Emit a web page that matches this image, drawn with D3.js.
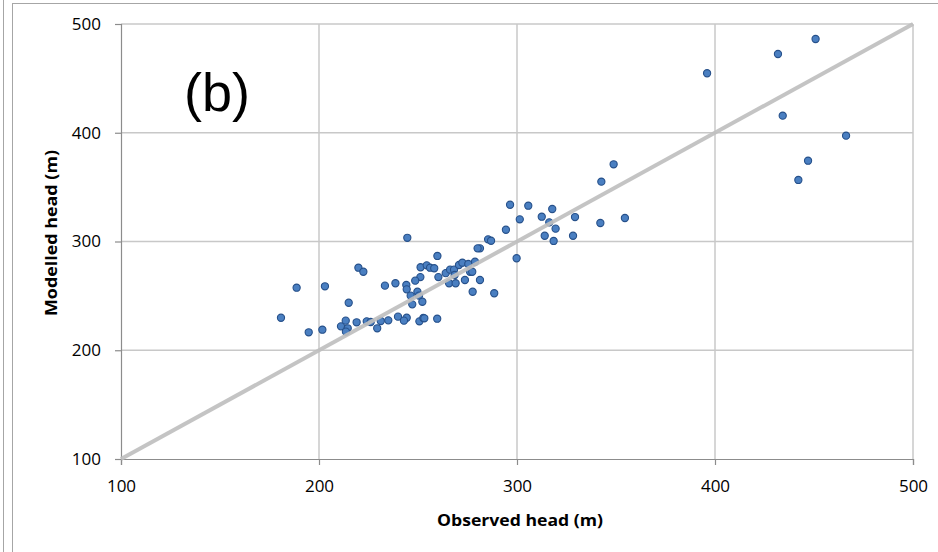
<!DOCTYPE html>
<html>
<head>
<meta charset="utf-8">
<script src="https://cdn.jsdelivr.net/npm/d3@7"></script>
<style>
  body { margin: 0; background: #fff; }
  svg { display: block; }
</style>
</head>
<body>
<div id="chart"></div>
<script>
// observed vs modelled head, panel (b)
const observed = [
  396, 431.8, 450.8, 434.2, 466.2, 447, 442.1, 348.8, 342.6,
  296.5, 305.7, 317.8, 301.4, 312.5, 329.3, 342.1, 316.3, 319.5, 294.4, 314, 328.3, 318.5,
  285.4, 286.9, 281.3, 299.8, 354.5,
  188.7, 203, 219.9, 222.4, 233.3, 215, 180.8, 194.8, 201.7, 211.1, 213.5, 214.5, 213.6,
  219, 224.1, 226.1, 231.2, 229.4,
  244.6, 259.8, 251.3, 254.4, 256.1, 258.2, 251.2, 248.6, 260.3, 264, 266.2, 268.2, 270.7,
  265.7, 269, 268.5, 238.6, 244.1, 244.3, 249.7, 246.3, 250.5, 247.1, 252.2,
  239.9, 244.3, 235, 242.9, 250.7, 252.7, 253.2, 259.7,
  280.1, 272.4, 275.4, 278.8, 276.3, 277.4, 273.7, 281.3, 277.6, 288.5
];
const modelled = [
  454.7, 472.4, 486.2, 415.7, 397.3, 374.3, 356.6, 371, 355,
  333.8, 332.9, 329.9, 320.4, 322.8, 322.5, 317, 317.6, 311.8, 310.8, 305.3, 305.3, 300.5,
  302, 300.7, 293.7, 284.6, 321.6,
  257.5, 258.8, 275.9, 272.2, 259.4, 243.7, 229.9, 216.5, 218.9, 222, 227.2, 220.2, 217.1,
  225.7, 226.6, 226, 226.9, 220.2,
  303.4, 286.7, 276.3, 278.1, 275.9, 275.4, 267.3, 264, 267.3, 270.9, 274.1, 274.1, 278.4,
  261.6, 261.6, 269.2, 261.6, 260, 256, 253.8, 250.2, 250.2, 242.2, 244.6,
  230.9, 229.9, 227.5, 227.2, 226.6, 229.7, 229.4, 229,
  293.7, 280.5, 279.3, 281.4, 272.2, 272.2, 264.6, 264.6, 253.8, 252.4
];
const xTicks = [100, 200, 300, 400, 500];
const yTicks = [100, 200, 300, 400, 500];
const oneToOne = [100, 500];

const W = 938, H = 552;
const margin = { left: 121, right: 25, top: 24, bottom: 93 };

const svg = d3.select('#chart').append('svg')
  .attr('width', W)
  .attr('height', H);

// chart frame
svg.append('line')
  .attr('x1', 3.5).attr('x2', 3.5).attr('y1', 0).attr('y2', H)
  .attr('stroke', '#a6a6a6').attr('stroke-width', 1);
svg.append('rect')
  .attr('x', 12.5).attr('y', 3.5)
  .attr('width', W + 20).attr('height', H + 20)
  .attr('fill', 'none')
  .attr('stroke', '#a6a6a6').attr('stroke-width', 1);

const x = d3.scaleLinear().domain([100, 500]).range([margin.left, W - margin.right]);
const y = d3.scaleLinear().domain([100, 500]).range([H - margin.bottom, margin.top]);

const g = svg.append('g');

// gridlines
g.append('g')
  .selectAll('line')
  .data(xTicks.slice(1))
  .join('line')
  .attr('x1', d => x(d)).attr('x2', d => x(d))
  .attr('y1', y(100)).attr('y2', y(500))
  .attr('stroke', '#c8c8c8').attr('stroke-width', 1.5);

g.append('g')
  .selectAll('line')
  .data(yTicks.slice(1))
  .join('line')
  .attr('x1', x(100)).attr('x2', x(500))
  .attr('y1', d => y(d)).attr('y2', d => y(d))
  .attr('stroke', '#c8c8c8').attr('stroke-width', 1.5);

// axes
const xAxis = d3.axisBottom(x).tickValues(xTicks).tickSize(6).tickPadding(15);
const yAxis = d3.axisLeft(y).tickValues(yTicks).tickSize(6).tickPadding(14);

const gx = svg.append('g')
  .attr('transform', `translate(0,${y(100)})`)
  .call(xAxis);
const gy = svg.append('g')
  .attr('transform', `translate(${x(100)},0)`)
  .call(yAxis);

[gx, gy].forEach(a => {
  a.select('.domain').attr('stroke', '#8c8c8c').attr('stroke-width', 1.2);
  a.selectAll('.tick line').attr('stroke', '#8c8c8c').attr('stroke-width', 1.2);
  a.selectAll('.tick text')
    .attr('fill', '#000')
    .style('font-family', '"Open Sans", sans-serif')
    .style('font-size', '17px');
});

// points
const pts = observed.map((o, i) => ({ o: o, m: modelled[i] }));
svg.append('g')
  .selectAll('circle')
  .data(pts)
  .join('circle')
  .attr('cx', d => x(d.o))
  .attr('cy', d => y(d.m))
  .attr('r', 3.6)
  .attr('fill', '#4a7fc1')
  .attr('stroke', '#26508a')
  .attr('stroke-width', 1.1);

// 1:1 line
svg.append('line')
  .attr('x1', x(oneToOne[0])).attr('y1', y(oneToOne[0]))
  .attr('x2', x(oneToOne[1])).attr('y2', y(oneToOne[1]))
  .attr('stroke', '#bfbfbf')
  .attr('stroke-width', 4)
  .attr('stroke-opacity', 0.92);

// titles
svg.append('text')
  .attr('x', 437).attr('y', 526)
  .attr('textLength', 166)
  .attr('lengthAdjust', 'spacingAndGlyphs')
  .style('font-family', '"Open Sans", sans-serif')
  .style('font-size', '16.5px')
  .style('font-weight', 'bold')
  .text('Observed head (m)');

svg.append('text')
  .attr('transform', 'translate(57,316) rotate(-90)')
  .attr('textLength', 166)
  .attr('lengthAdjust', 'spacingAndGlyphs')
  .style('font-family', '"Open Sans", sans-serif')
  .style('font-size', '16.5px')
  .style('font-weight', 'bold')
  .text('Modelled head (m)');

svg.append('text')
  .attr('x', 184).attr('y', 111)
  .style('font-family', '"Liberation Sans", Arial, sans-serif')
  .style('font-size', '54px')
  .text('(b)');
</script>
</body>
</html>
